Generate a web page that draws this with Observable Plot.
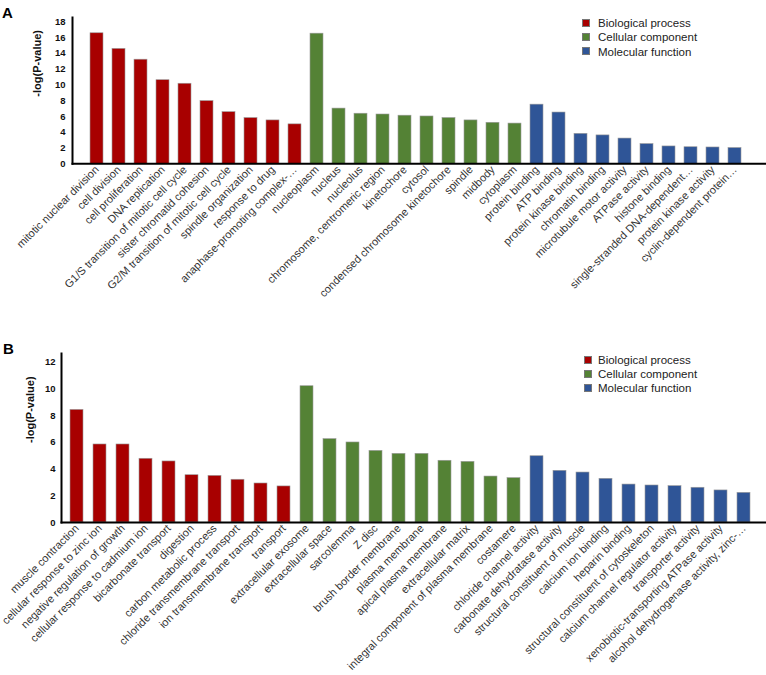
<!DOCTYPE html>
<html><head><meta charset="utf-8">
<script src="https://cdn.jsdelivr.net/npm/d3@7"></script>
<script src="https://cdn.jsdelivr.net/npm/@observablehq/plot@0.6"></script>
<style>
body{margin:0;background:#fff;font-family:"Liberation Sans",Arial,sans-serif;}
.panel{position:relative;width:766px;}
.panel svg{display:block;}
.letter{position:absolute;font-weight:bold;font-size:15px;line-height:15px;color:#000;}
.legend{position:absolute;font-size:11.5px;line-height:14.2px;color:#222;}
.legend .row{position:relative;height:14.2px;white-space:nowrap;}
.legend .sw{position:absolute;left:0;top:2.8px;width:8px;height:8px;box-sizing:border-box;border:0.6px solid #777;}
</style>
</head><body>
<div id="chart"></div>
<script>
// ---- data: panel A ----
const groupNames = ["Biological process", "Cellular component", "Molecular function"];
const groupColors = ["#A80000", "#548235", "#2F5597"];

const bpTermsA = ["mitotic nuclear division","cell division","cell proliferation","DNA replication","G1/S transition of mitotic cell cycle","sister chromatid cohesion","G2/M transition of mitotic cell cycle","spindle organization","response to drug","anaphase-promoting complex-…"];
const bpValuesA = [16.55, 14.57, 13.2, 10.6, 10.15, 7.95, 6.55, 5.8, 5.5, 5.0];
const ccTermsA = ["nucleoplasm","nucleus","nucleolus","chromosome, centromeric region","kinetochore","cytosol","condensed chromosome kinetochore","spindle","midbody","cytoplasm"];
const ccValuesA = [16.5, 7.0, 6.35, 6.25, 6.1, 6.0, 5.8, 5.5, 5.2, 5.1];
const mfTermsA = ["protein binding","ATP binding","protein kinase binding","chromatin binding","microtubule motor activity","ATPase activity","histone binding","single-stranded DNA-dependent…","protein kinase activity","cyclin-dependent protein…"];
const mfValuesA = [7.5, 6.5, 3.8, 3.6, 3.2, 2.5, 2.2, 2.1, 2.07, 2.0];
const yTicksA = [0,2,4,6,8,10,12,14,16,18];

// ---- data: panel B ----
const bpTermsB = ["muscle contraction","cellular response to zinc ion","negative regulation of growth","cellular response to cadmium ion","bicarbonate transport","digestion","carbon metabolic process","chloride transmembrane transport","ion transmembrane transport","transport"];
const bpValuesB = [8.43, 5.84, 5.84, 4.77, 4.57, 3.54, 3.49, 3.2, 2.92, 2.7];
const ccTermsB = ["extracellular exosome","extracellular space","sarcolemma","Z disc","brush border membrane","plasma membrane","apical plasma membrane","extracellular matrix","integral component of plasma membrane","costamere"];
const ccValuesB = [10.2, 6.24, 5.99, 5.36, 5.14, 5.14, 4.62, 4.54, 3.44, 3.32];
const mfTermsB = ["chloride channel activity","carbonate dehydratase activity","structural constituent of muscle","calcium ion binding","heparin binding","structural constituent of cytoskeleton","calcium channel regulator activity","transporter activity","xenobiotic-transporting ATPase activity","alcohol dehydrogenase activity, zinc-…"];
const mfValuesB = [4.96, 3.87, 3.74, 3.27, 2.84, 2.77, 2.72, 2.6, 2.4, 2.22];
const yTicksB = [0,2,4,6,8,10,12];

const yLabel = "-log(P-value)";

function rows(groups) {
  const out = [];
  groups.forEach(([terms, values], gi) => {
    terms.forEach((t, i) => out.push({term: t, value: values[i], group: groupNames[gi]}));
  });
  return out;
}

function makePanel(cfg) {
  const data = rows(cfg.groups);
  const plot = Plot.plot({
    width: 766,
    height: cfg.height,
    marginLeft: cfg.axisX,
    marginRight: 0,
    marginTop: cfg.marginTop,
    marginBottom: cfg.marginBottom,
    style: {fontFamily: "Liberation Sans, Arial, sans-serif", background: "transparent", overflow: "visible"},
    x: {domain: data.map(d => d.term), range: cfg.xRange, paddingInner: 0.42, paddingOuter: 0.21, label: null},
    y: {domain: [0, cfg.yMax], label: null},
    color: {domain: groupNames, range: groupColors},
    marks: [
      Plot.barY(data, {x: "term", y: "value", fill: "group", stroke: "#9a9a9a", strokeWidth: 0.6}),
      Plot.axisY({ticks: cfg.yTicks, tickSize: 0, tickPadding: cfg.yPad, fontWeight: "bold", fontSize: 9.5, color: "#111", label: null}),
      Plot.axisX({tickSize: 0, tickRotate: -45, tickPadding: 4, fontSize: 11, color: "#333", label: null}),
      Plot.frame({anchor: "left", stroke: "#000", strokeWidth: 2}),
      Plot.frame({anchor: "bottom", stroke: "#000", strokeWidth: 2}),
      Plot.text([yLabel], {text: d => d, frameAnchor: "left", rotate: -90, dx: cfg.labelDx, dy: cfg.labelDy, fontWeight: "bold", fontSize: 11, fill: "#111"})
    ]
  });
  const div = document.createElement("div");
  div.className = "panel";
  div.style.height = cfg.height + "px";
  div.appendChild(plot);
  const letter = document.createElement("div");
  letter.className = "letter";
  letter.textContent = cfg.letter;
  letter.style.left = cfg.letterX + "px";
  letter.style.top = cfg.letterY + "px";
  div.appendChild(letter);
  const leg = document.createElement("div");
  leg.className = "legend";
  leg.style.left = cfg.legX + "px";
  leg.style.top = cfg.legY + "px";
  groupNames.forEach((g, i) => {
    const r = document.createElement("div");
    r.className = "row";
    r.style.paddingLeft = cfg.legPad + "px";
    const sw = document.createElement("span");
    sw.className = "sw";
    sw.style.background = groupColors[i];
    r.appendChild(sw);
    r.appendChild(document.createTextNode(g));
    leg.appendChild(r);
  });
  div.appendChild(leg);
  return div;
}

const chart = document.getElementById("chart");
chart.appendChild(makePanel({
  letter: "A", letterX: 2, letterY: 5,
  groups: [[bpTermsA, bpValuesA], [ccTermsA, ccValuesA], [mfTermsA, mfValuesA]],
  height: 330, axisX: 72, marginTop: 17, marginBottom: 166.7, yMax: 18.55, yTicks: yTicksA,
  xRange: [73.1, 757.1], yPad: 7, labelDx: -35, labelDy: 6,
  legX: 582, legY: 16.2, legPad: 16
}));
chart.appendChild(makePanel({
  letter: "B", letterX: 3, letterY: 11,
  groups: [[bpTermsB, bpValuesB], [ccTermsB, ccValuesB], [mfTermsB, mfValuesB]],
  height: 345, axisX: 61, marginTop: 23, marginBottom: 153, yMax: 12.65, yTicks: yTicksB,
  xRange: [63.4, 757.3], yPad: 6, labelDx: -31, labelDy: 5,
  legX: 584, legY: 22.9, legPad: 14
}));
</script>
</body></html>
